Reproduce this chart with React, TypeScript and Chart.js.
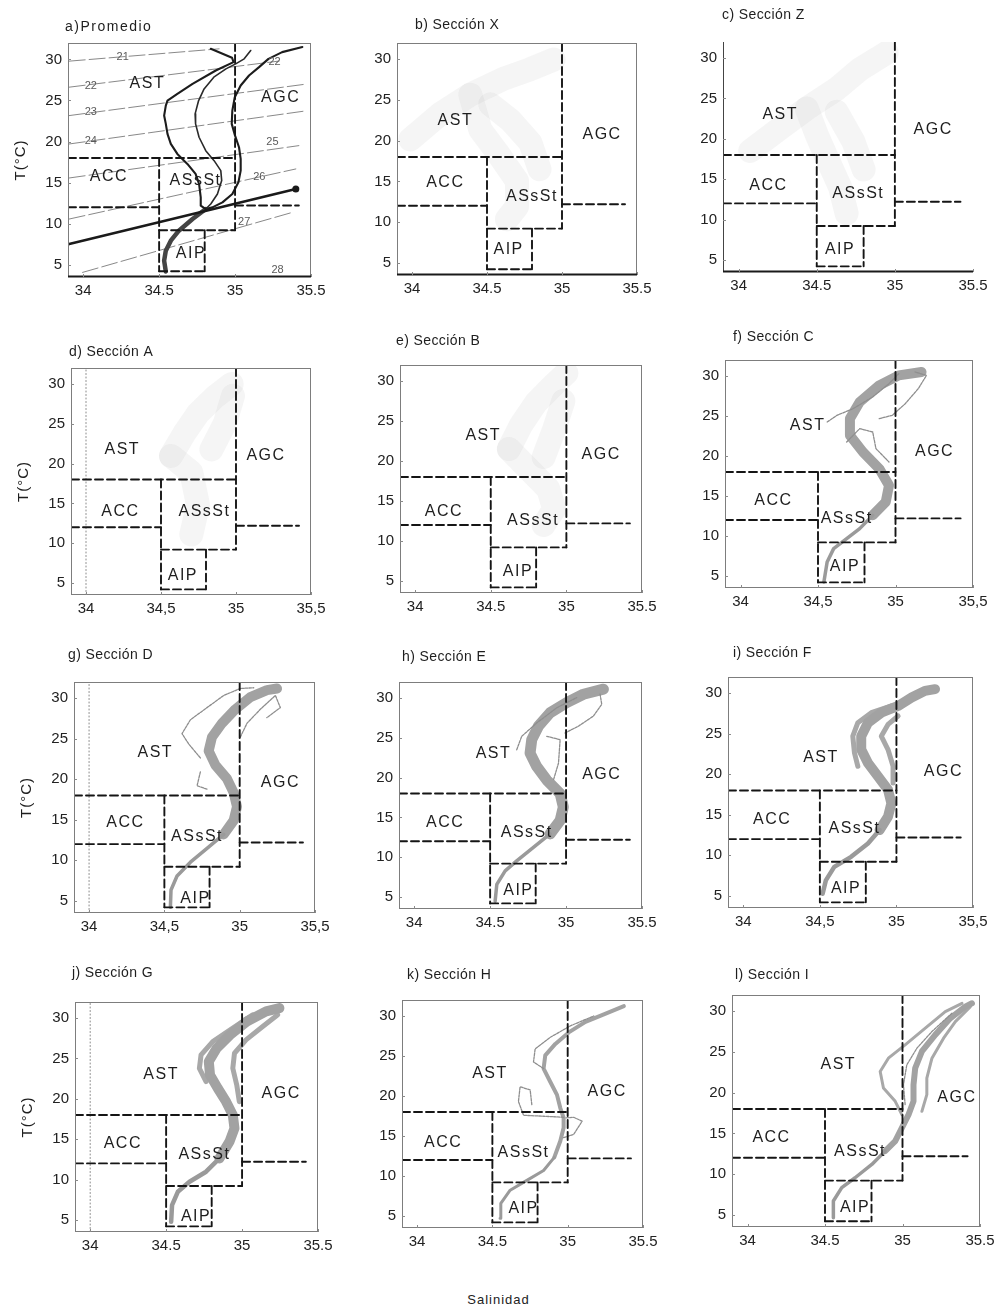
import React, { useEffect, useRef } from "react";
import { Chart, registerables } from "chart.js";

Chart.register(...registerables);

type Pt = [number, number];

const FONT = '"Liberation Sans", Arial, Helvetica, sans-serif';

// ---- shared axes ----
const SAL_MIN = 33.9;
const SAL_MAX = 35.5;
const TEMP_MIN = 3.5;
const TEMP_MAX = 32;
const salinityTicks = [34, 34.5, 35, 35.5];
const salinityLabelsPoint = ["34", "34.5", "35", "35.5"];
const salinityLabelsComma = ["34", "34,5", "35", "35,5"];
const temperatureTicks = [5, 10, 15, 20, 25, 30];

const massNames = ["AST", "AGC", "ACC", "ASsSt", "AIP"];

// ---- water mass limits (salinity, temperature) ----
const limitT18: Pt[] = [[SAL_MIN, 18], [35, 18]];
const limitT12West: Pt[] = [[SAL_MIN, 12], [34.5, 12]];
const limitT12East: Pt[] = [[35, 12.2], [35.42, 12.2]];
const limitS345: Pt[] = [[34.5, 18], [34.5, 4.2]];
const limitS35: Pt[] = [[35, TEMP_MAX], [35, 9.2]];
const limitT9: Pt[] = [[34.5, 9.2], [35, 9.2]];
const limitS348: Pt[] = [[34.8, 9.2], [34.8, 4.2]];
const limitT4: Pt[] = [[34.5, 4.2], [34.8, 4.2]];
const isohaline34: Pt[] = [[34, TEMP_MIN], [34, TEMP_MAX]];

// ---- a) mean profiles ----
const meanMinusStd: Pt[] = [[34.84, 31.29], [34.98, 30.2], [34.99, 29.67], [34.873, 28.65], [34.72, 27.02], [34.62, 25.8], [34.555, 24.99], [34.544, 24.38], [34.533, 23.16], [34.544, 22.15], [34.555, 20.93], [34.577, 19.71], [34.62, 18.49], [34.686, 17.27], [34.74, 16.05], [34.763, 14.83], [34.774, 13.2], [34.774, 12.19], [34.807, 11.78]];
const meanProfile: Pt[] = [[35.103, 31.09], [35.06, 30.07], [35.004, 29.46], [34.94, 28.85], [34.86, 27.84], [34.796, 26.41], [34.76, 24.99], [34.737, 23.37], [34.74, 22.15], [34.763, 20.52], [34.807, 18.89], [34.862, 17.67], [34.906, 16.46], [34.912, 15.24], [34.884, 13.61], [34.84, 12.39], [34.807, 11.78]];
const meanPlusStd: Pt[] = [[35.443, 31.5], [35.31, 30.89], [35.22, 30.07], [35.158, 29.06], [35.092, 28.04], [35.037, 26.82], [34.998, 25.4], [34.982, 23.77], [34.978, 22.15], [35.0, 20.72], [35.026, 19.3], [35.037, 17.88], [35.037, 16.46], [35.022, 15.03], [34.982, 13.61], [34.917, 12.59], [34.851, 11.98], [34.807, 11.78]];
const meanDeep: Pt[] = [[34.807, 11.78], [34.72, 10.56], [34.63, 9.14], [34.577, 7.92], [34.544, 6.7], [34.533, 5.48], [34.544, 4.18]];
const mixingLine: Pt[] = [[33.908, 7.51], [35.4, 14.22]];

// ---- a) sigma-t isopycnals ----
const sigma21: Pt[] = [[33.908, 29.79], [34.895, 31.29]];
const sigma22: Pt[] = [[33.908, 26.62], [35.29, 29.8]];
const sigma23: Pt[] = [[33.908, 23.16], [35.45, 26.95]];
const sigma24: Pt[] = [[33.908, 19.7], [35.45, 23.69]];
const sigma25: Pt[] = [[33.908, 15.56], [35.42, 19.5]];
const sigma26: Pt[] = [[33.908, 10.56], [35.4, 16.66]];
const sigma27: Pt[] = [[33.996, 4.06], [35.377, 11.37]];
const sigmaValues = ["21", "22", "22", "23", "24", "25", "26", "27", "28"];

// ---- b) Sección X ----
const secXCloudA: Pt[] = [[33.989, 20.16], [34.189, 23.29], [34.389, 25.65], [34.611, 27.61], [34.789, 28.78], [34.944, 29.96]];
const secXCloudB: Pt[] = [[34.389, 25.65], [34.456, 21.33], [34.567, 18.59], [34.7, 15.06], [34.7, 11.92], [34.633, 10.35]];
const secXCloudC: Pt[] = [[34.522, 24.47], [34.656, 22.51], [34.789, 19.76], [34.85, 16.5]];

// ---- c) Sección Z ----
const secZCloudA: Pt[] = [[34.074, 18.49], [34.266, 21.32], [34.436, 23.76], [34.628, 26.19], [34.777, 28.62], [34.947, 30.65]];
const secZCloudB: Pt[] = [[34.436, 23.76], [34.5, 20.51], [34.564, 17.68], [34.649, 14.03], [34.691, 10.78]];
const secZCloudC: Pt[] = [[34.628, 23.35], [34.734, 19.7], [34.8, 16.2]];

// ---- d) Sección A ----
const secACloudA: Pt[] = [[34.567, 20.96], [34.657, 23.84], [34.747, 26.3], [34.859, 28.36], [34.971, 30.0]];
const secACloudB: Pt[] = [[34.567, 20.96], [34.702, 18.9], [34.747, 14.79], [34.702, 11.1]];
const secACloudC: Pt[] = [[34.836, 21.78], [34.926, 25.07], [34.98, 28.5]];

// ---- e) Sección B ----
const secBCloudA: Pt[] = [[34.62, 21.5], [34.7, 24.5], [34.8, 27.3], [34.92, 29.6], [35.0, 31.0]];
const secBCloudB: Pt[] = [[34.62, 21.5], [34.75, 19.0], [34.88, 16.5], [34.92, 14.0], [34.85, 12.0]];
const secBCloudC: Pt[] = [[34.85, 20.5], [34.92, 24.0], [34.98, 27.5]];

// ---- f) Sección C ----
const secCDeep: Pt[] = [[34.538, 4.25], [34.559, 6.75], [34.601, 8.42], [34.685, 9.67], [34.769, 10.92], [34.853, 12.58]];
const secCCore: Pt[] = [[34.853, 12.58], [34.937, 14.25], [34.958, 16.33], [34.895, 18.42], [34.79, 20.5], [34.706, 22.58], [34.706, 24.67], [34.769, 26.75], [34.895, 28.83], [35.021, 30.08], [35.168, 30.5]];
const secCBranchA: Pt[] = [[34.559, 24.25], [34.622, 25.08], [34.727, 25.92], [34.853, 27.38], [34.958, 29.04], [35.021, 30.29]];
const secCBranchB: Pt[] = [[34.895, 24.67], [34.979, 25.08], [35.063, 26.54], [35.147, 28.42], [35.2, 30.08], [35.126, 30.5]];
const secCBranchC: Pt[] = [[34.685, 21.75], [34.769, 23.42], [34.853, 23.0], [34.874, 20.92], [34.958, 19.25]];

// ---- g) Sección D ----
const secDDeep: Pt[] = [[34.54, 4.2], [34.544, 6.34], [34.584, 8.06], [34.673, 9.77], [34.783, 11.48], [34.894, 13.2]];
const secDCore: Pt[] = [[34.894, 13.2], [34.96, 14.91], [34.982, 16.63], [34.96, 18.34], [34.916, 20.06], [34.838, 21.77], [34.794, 23.49], [34.816, 25.2], [34.883, 26.92], [34.971, 28.63], [35.071, 30.13], [35.181, 30.99], [35.248, 31.2]];
const secDBranchA: Pt[] = [[35.004, 25.2], [35.049, 26.92], [35.137, 28.63], [35.237, 30.34], [35.27, 28.84], [35.18, 27.6]];
const secDBranchB: Pt[] = [[34.739, 22.63], [34.662, 24.34], [34.617, 25.63], [34.673, 27.34], [34.783, 28.84], [34.894, 30.34], [35.004, 31.2], [35.093, 31.29]];
const secDBranchC: Pt[] = [[34.739, 20.91], [34.717, 19.2], [34.783, 18.77]];

// ---- h) Sección E ----
const secEDeep: Pt[] = [[34.533, 4.48], [34.544, 6.59], [34.599, 8.28], [34.675, 9.55], [34.785, 11.24], [34.895, 12.93]];
const secECore: Pt[] = [[34.895, 12.93], [34.961, 14.62], [34.982, 16.31], [34.961, 18.0], [34.873, 19.69], [34.807, 21.38], [34.763, 23.07], [34.774, 24.76], [34.818, 26.45], [34.895, 28.14], [35.004, 29.41], [35.114, 30.46], [35.246, 31.1]];
const secEBranchA: Pt[] = [[34.993, 25.6], [35.081, 26.45], [35.18, 27.72], [35.235, 29.2], [35.224, 30.46]];
const secEBranchB: Pt[] = [[34.675, 23.49], [34.708, 25.18], [34.807, 26.87], [34.939, 28.77], [35.07, 30.04]];
const secEBranchC: Pt[] = [[34.873, 25.18], [34.961, 24.76], [34.95, 21.8], [34.917, 19.69]];

// ---- i) Sección F ----
const secFDeep: Pt[] = [[34.518, 5.26], [34.539, 6.91], [34.594, 8.57], [34.704, 9.81], [34.814, 11.46], [34.89, 13.12]];
const secFCore: Pt[] = [[34.89, 13.12], [34.945, 14.77], [34.967, 16.43], [34.945, 18.08], [34.879, 19.74], [34.814, 21.39], [34.77, 23.05], [34.77, 24.7], [34.814, 26.36], [34.901, 27.6], [35.011, 28.43], [35.099, 29.46], [35.186, 30.29], [35.252, 30.5]];
const secFBranchA: Pt[] = [[34.978, 18.91], [34.978, 20.98], [34.945, 23.05], [34.901, 24.7], [34.945, 26.15], [35.011, 27.19]];
const secFBranchB: Pt[] = [[34.748, 20.98], [34.726, 22.63], [34.715, 24.7], [34.748, 26.36], [34.836, 27.6], [34.967, 28.43]];

// ---- j) Sección G ----
const secGDeep: Pt[] = [[34.533, 4.76], [34.539, 6.83], [34.577, 8.48], [34.654, 9.73], [34.763, 10.97], [34.851, 12.62]];
const secGCore: Pt[] = [[34.851, 12.62], [34.917, 14.69], [34.95, 16.35], [34.939, 18.0], [34.895, 19.65], [34.84, 21.31], [34.789, 22.96], [34.781, 24.62], [34.833, 26.27], [34.921, 27.93], [35.031, 29.58], [35.158, 30.83], [35.246, 31.24]];
const secGBranchA: Pt[] = [[34.763, 22.14], [34.719, 23.79], [34.73, 25.45], [34.807, 27.1], [34.939, 28.76], [35.07, 30.41]];
const secGBranchB: Pt[] = [[34.982, 19.65], [34.965, 21.72], [34.939, 23.79], [34.95, 25.65], [35.026, 27.31], [35.136, 28.96], [35.235, 30.41]];

// ---- k) Sección H ----
const secHDeep: Pt[] = [[34.551, 4.72], [34.556, 6.57], [34.618, 8.22], [34.729, 9.45], [34.84, 10.68], [34.911, 12.33]];
const secHCore: Pt[] = [[34.911, 12.33], [34.951, 14.38], [34.973, 16.03], [34.973, 17.26], [34.951, 18.49], [34.929, 20.14], [34.884, 21.78], [34.84, 23.43], [34.851, 25.07], [34.918, 26.51], [35.007, 27.95], [35.118, 29.26], [35.24, 30.21], [35.373, 31.23]];
const secHBranchA: Pt[] = [[34.973, 17.34], [34.84, 17.47], [34.707, 17.59], [34.673, 19.32], [34.684, 21.16], [34.751, 20.75], [34.762, 18.9]];
const secHBranchB: Pt[] = [[34.84, 23.43], [34.773, 24.25], [34.784, 25.89], [34.884, 27.33], [35.018, 28.77], [35.173, 30.0]];
const secHBranchC: Pt[] = [[34.973, 14.79], [35.04, 15.21], [35.096, 16.85], [35.04, 17.34], [34.984, 17.26]];

// ---- l) Sección I ----
const secIDeep: Pt[] = [[34.554, 4.65], [34.554, 6.69], [34.608, 8.33], [34.694, 9.55], [34.802, 11.18], [34.888, 12.82]];
const secICore: Pt[] = [[34.888, 12.82], [34.953, 14.04], [34.996, 15.67], [35.039, 17.31], [35.071, 18.94], [35.071, 20.98], [35.082, 23.02], [35.125, 25.06], [35.211, 27.1], [35.308, 29.14], [35.405, 30.57], [35.448, 30.98]];
const secIBranchA: Pt[] = [[34.996, 17.31], [34.953, 18.94], [34.877, 20.57], [34.856, 22.61], [34.909, 24.24], [35.017, 25.88], [35.147, 27.92], [35.276, 29.96], [35.384, 30.98]];
const secIBranchB: Pt[] = [[35.125, 17.71], [35.157, 19.76], [35.157, 21.8], [35.19, 24.24], [35.265, 26.69], [35.341, 28.73], [35.438, 30.57]];
const secIBranchC: Pt[] = [[35.017, 18.53], [35.006, 20.98], [35.028, 23.43], [35.093, 25.47], [35.19, 27.51], [35.319, 29.76]];

// ---- drawing styles ----
type Series = { pts: Pt[]; color: string; width: number; dash?: number[]; order: number; endDot?: boolean };

const boundaryStyle = (pts: Pt[]): Series => ({ pts, color: "#151515", width: 1.9, dash: [8, 4], order: 1 });
const cloud = (pts: Pt[]): Series => ({ pts, color: "rgba(175,175,175,0.13)", width: 24, order: 9 });
const band = (pts: Pt[], width: number): Series => ({ pts, color: "#a2a2a2", width, order: 6 });
const deep = (pts: Pt[], width = 3.5): Series => ({ pts, color: "#9a9a9a", width, order: 6 });
const edge = (pts: Pt[], width = 4): Series => ({ pts, color: "#a8a8a8", width, order: 7 });
const strand = (pts: Pt[]): Series => ({ pts, color: "#8e8e8e", width: 1.3, dash: [2.5, 1.2], order: 5 });
const isopycnal = (pts: Pt[]): Series => ({ pts, color: "#7a7a7a", width: 0.9, dash: [16, 4], order: 8 });

const boundaries: Series[] = [limitT18, limitT12West, limitT12East, limitS345, limitS35, limitT9, limitS348, limitT4].map(boundaryStyle);
const isohalineRef: Series = { pts: isohaline34, color: "#8a8a8a", width: 1, dash: [1, 2.5], order: 4 };

// ---- panel layout ----
type PanelSpec = {
  title: string;
  rect: [number, number, number, number]; // plot area on the page: left, top, width, height
  titleAt: [number, number];
  titleSpacing: number;
  tickLabels: string[];
  yLabel: boolean;
  frame: "box" | "boxDark" | "axes";
  massAt: Pt[];
  series: Series[];
  sigmaAt?: Pt[];
};

const panels: PanelSpec[] = [
  {
    title: "a)Promedio", rect: [68, 43, 243, 234], titleAt: [-3, -16], titleSpacing: 1.5,
    tickLabels: salinityLabelsPoint, yLabel: true, frame: "boxDark",
    massAt: [[34.423, 27.0], [35.3, 25.4], [34.17, 15.7], [34.74, 15.2], [34.71, 6.3]],
    series: [
      ...[sigma21, sigma22, sigma23, sigma24, sigma25, sigma26, sigma27].map(isopycnal),
      { pts: meanMinusStd, color: "#1c1c1c", width: 2.1, order: 3 },
      { pts: meanProfile, color: "#2a2a2a", width: 1.6, order: 3 },
      { pts: meanPlusStd, color: "#1c1c1c", width: 2.1, order: 3 },
      { pts: meanDeep, color: "#444", width: 4.5, order: 3 },
      { pts: mixingLine, color: "#1a1a1a", width: 2.6, order: 2, endDot: true },
    ],
    sigmaAt: [[34.26, 30.28], [34.05, 26.82], [35.26, 29.67], [34.05, 23.57], [34.05, 20.11], [35.246, 19.91], [35.16, 15.64], [35.06, 10.15], [35.28, 4.34]],
  },
  {
    title: "b) Sección X", rect: [397, 43, 240, 232], titleAt: [18, -18], titleSpacing: 0.4,
    tickLabels: salinityLabelsPoint, yLabel: false, frame: "boxDark",
    massAt: [[34.289, 22.5], [35.267, 20.75], [34.222, 14.86], [34.8, 13.1], [34.644, 6.63]],
    series: [secXCloudA, secXCloudB, secXCloudC].map(cloud),
  },
  {
    title: "c) Sección Z", rect: [723, 42, 250, 230], titleAt: [-1, -27], titleSpacing: 0.4,
    tickLabels: salinityLabelsPoint, yLabel: false, frame: "axes",
    massAt: [[34.266, 22.95], [35.245, 21.12], [34.191, 14.23], [34.766, 13.22], [34.649, 6.33]],
    series: [secZCloudA, secZCloudB, secZCloudC].map(cloud),
  },
  {
    title: "d) Sección A", rect: [71, 368, 240, 227], titleAt: [-2, -16], titleSpacing: 0.4,
    tickLabels: salinityLabelsComma, yLabel: true, frame: "box",
    massAt: [[34.242, 21.78], [35.2, 20.96], [34.23, 13.97], [34.79, 13.97], [34.646, 5.96]],
    series: [isohalineRef, ...[secACloudA, secACloudB, secACloudC].map(cloud)],
  },
  {
    title: "e) Sección B", rect: [400, 365, 242, 228], titleAt: [-4, -24], titleSpacing: 0.4,
    tickLabels: salinityLabelsPoint, yLabel: false, frame: "box",
    massAt: [[34.45, 23.2], [35.23, 20.8], [34.19, 13.7], [34.78, 12.6], [34.68, 6.2]],
    series: [secBCloudA, secBCloudB, secBCloudC].map(cloud),
  },
  {
    title: "f) Sección C", rect: [725, 360, 248, 228], titleAt: [8, -23], titleSpacing: 0.4,
    tickLabels: salinityLabelsComma, yLabel: false, frame: "box",
    massAt: [[34.433, 23.75], [35.252, 20.5], [34.212, 14.46], [34.685, 12.17], [34.674, 6.13]],
    series: [deep(secCDeep), band(secCCore, 10), ...[secCBranchA, secCBranchB, secCBranchC].map(strand)],
  },
  {
    title: "g) Sección D", rect: [74, 682, 241, 231], titleAt: [-6, -27], titleSpacing: 0.4,
    tickLabels: salinityLabelsComma, yLabel: true, frame: "box",
    massAt: [[34.44, 23.27], [35.27, 19.63], [34.241, 14.7], [34.717, 12.98], [34.706, 5.27]],
    series: [isohalineRef, deep(secDDeep), band(secDCore, 10), ...[secDBranchA, secDBranchB, secDBranchC].map(strand)],
  },
  {
    title: "h) Sección E", rect: [399, 682, 243, 227], titleAt: [3, -25], titleSpacing: 0.4,
    tickLabels: salinityLabelsPoint, yLabel: false, frame: "box",
    massAt: [[34.522, 23.07], [35.235, 20.32], [34.204, 14.41], [34.741, 13.14], [34.686, 5.75]],
    series: [deep(secEDeep), band(secECore, 11), ...[secEBranchA, secEBranchB, secEBranchC].map(strand)],
  },
  {
    title: "i) Sección F", rect: [728, 677, 245, 231], titleAt: [5, -24], titleSpacing: 0.4,
    tickLabels: salinityLabelsComma, yLabel: false, frame: "box",
    massAt: [[34.507, 22.01], [35.307, 20.36], [34.189, 14.36], [34.726, 13.32], [34.671, 5.88]],
    series: [deep(secFDeep, 4.5), band(secFCore, 10), edge(secFBranchA, 5), edge(secFBranchB, 5)],
  },
  {
    title: "j) Sección G", rect: [75, 1002, 243, 230], titleAt: [-3, -29], titleSpacing: 0.4,
    tickLabels: salinityLabelsPoint, yLabel: true, frame: "box",
    massAt: [[34.467, 22.96], [35.257, 20.69], [34.215, 14.48], [34.752, 13.04], [34.697, 5.38]],
    series: [isohalineRef, deep(secGDeep, 4.5), band(secGCore, 10), edge(secGBranchA, 5), edge(secGBranchB, 5)],
  },
  {
    title: "k) Sección H", rect: [402, 1000, 241, 228], titleAt: [5, -25], titleSpacing: 0.4,
    tickLabels: salinityLabelsPoint, yLabel: false, frame: "box",
    massAt: [[34.484, 22.81], [35.262, 20.55], [34.173, 14.18], [34.707, 12.94], [34.707, 5.96]],
    series: [deep(secHDeep, 3), band(secHCore, 4), ...[secHBranchA, secHBranchB, secHBranchC].map(strand)],
  },
  {
    title: "l) Sección I", rect: [732, 995, 248, 232], titleAt: [3, -20], titleSpacing: 0.4,
    tickLabels: salinityLabelsPoint, yLabel: false, frame: "box",
    massAt: [[34.586, 23.43], [35.351, 19.35], [34.155, 14.45], [34.726, 12.82], [34.694, 5.88]],
    series: [deep(secIDeep, 3.5), band(secICore, 6), edge(secIBranchA, 3), edge(secIBranchB, 3), strand(secIBranchC)],
  },
];

const M_L = 62;
const M_T = 40;
const M_R = 22;
const M_B = 32;

function decorations(spec: PanelSpec) {
  return {
    id: "tsDecor",
    afterDatasetsDraw(chart: any) {
      const { ctx, scales } = chart;
      const xs = scales.x;
      const ys = scales.y;
      ctx.save();
      ctx.textAlign = "center";
      ctx.textBaseline = "middle";
      if (spec.sigmaAt) {
        ctx.font = `11px ${FONT}`;
        ctx.fillStyle = "#5a5a5a";
        spec.sigmaAt.forEach(([s, t], i) => {
          ctx.fillText(sigmaValues[i], xs.getPixelForValue(s), ys.getPixelForValue(t));
        });
      }
      ctx.font = `16px ${FONT}`;
      (ctx as any).letterSpacing = "1.5px";
      ctx.fillStyle = "#1e1e1e";
      massNames.forEach((name, i) => {
        const [s, t] = spec.massAt[i];
        ctx.fillText(name, xs.getPixelForValue(s), ys.getPixelForValue(t));
      });
      ctx.restore();
    },
    afterDraw(chart: any) {
      const { ctx, chartArea, scales } = chart;
      const { left, top, right, bottom } = chartArea;
      ctx.save();
      // frame
      ctx.lineWidth = 1;
      ctx.strokeStyle = "#7d7d7d";
      if (spec.frame === "axes") {
        ctx.strokeStyle = "#444";
        ctx.beginPath();
        ctx.moveTo(left + 0.5, top);
        ctx.lineTo(left + 0.5, bottom);
        ctx.stroke();
      } else {
        ctx.strokeRect(left + 0.5, top + 0.5, right - left - 1, bottom - top - 1);
      }
      if (spec.frame !== "box") {
        ctx.strokeStyle = "#1a1a1a";
        ctx.lineWidth = 1.8;
        ctx.beginPath();
        ctx.moveTo(left, bottom - 0.5);
        ctx.lineTo(right, bottom - 0.5);
        ctx.stroke();
      }
      // small inward ticks
      ctx.strokeStyle = "#8a8a8a";
      ctx.lineWidth = 1;
      ctx.beginPath();
      salinityTicks.forEach((v) => {
        const px = Math.round(scales.x.getPixelForValue(v)) + 0.5;
        ctx.moveTo(px, bottom);
        ctx.lineTo(px, bottom - 3);
      });
      temperatureTicks.forEach((v) => {
        const py = Math.round(scales.y.getPixelForValue(v)) + 0.5;
        ctx.moveTo(left, py);
        ctx.lineTo(left + 3, py);
      });
      ctx.stroke();
      // panel title
      ctx.fillStyle = "#1e1e1e";
      ctx.font = `14px ${FONT}`;
      (ctx as any).letterSpacing = `${spec.titleSpacing}px`;
      ctx.textAlign = "left";
      ctx.textBaseline = "middle";
      ctx.fillText(spec.title, left + spec.titleAt[0], top + spec.titleAt[1]);
      // temperature axis title
      if (spec.yLabel) {
        ctx.font = `15px ${FONT}`;
        (ctx as any).letterSpacing = "1px";
        ctx.textAlign = "center";
        ctx.translate(left - 47, (top + bottom) / 2);
        ctx.rotate(-Math.PI / 2);
        ctx.fillText("T(°C)", 0, 0);
      }
      ctx.restore();
    },
  };
}

function TSPanel({ spec }: { spec: PanelSpec }) {
  const ref = useRef<HTMLCanvasElement>(null);
  const [pl, pt, pw, ph] = spec.rect;
  const W = pw + M_L + M_R;
  const H = ph + M_T + M_B;

  useEffect(() => {
    const canvas = ref.current;
    if (!canvas) return;
    const toDataset = (s: Series) => ({
      data: s.pts.map(([x, y]) => ({ x, y })),
      showLine: true,
      borderColor: s.color,
      backgroundColor: s.color,
      borderWidth: s.width,
      borderDash: s.dash ?? [],
      borderCapStyle: "round",
      borderJoinStyle: "round",
      pointRadius: s.endDot ? s.pts.map((_, i) => (i === s.pts.length - 1 ? 3.5 : 0)) : 0,
      pointBorderWidth: 0,
      tension: 0,
      fill: false,
      clip: 0,
      order: s.order,
    });
    const datasets = [...boundaries, ...spec.series].map(toDataset);
    const tickFont = { family: FONT, size: 15 };
    const chart = new Chart(canvas, {
      type: "scatter",
      data: { datasets } as any,
      options: {
        animation: false,
        responsive: false,
        devicePixelRatio: 1,
        events: [],
        layout: { padding: { left: 0, top: M_T, right: M_R, bottom: 0 } },
        plugins: { legend: { display: false }, tooltip: { enabled: false } },
        scales: {
          x: {
            type: "linear",
            position: "bottom",
            min: SAL_MIN,
            max: SAL_MAX,
            grid: { display: false, drawTicks: false },
            border: { display: false },
            afterBuildTicks: (s: any) => {
              s.ticks = salinityTicks.map((value) => ({ value }));
            },
            afterFit: (s: any) => {
              s.height = M_B;
            },
            ticks: {
              padding: 5,
              maxRotation: 0,
              autoSkip: false,
              color: "#222",
              font: tickFont,
              callback: (v: any) => spec.tickLabels[salinityTicks.indexOf(Number(v))] ?? "",
            },
          },
          y: {
            type: "linear",
            min: TEMP_MIN,
            max: TEMP_MAX,
            grid: { display: false, drawTicks: false },
            border: { display: false },
            afterBuildTicks: (s: any) => {
              s.ticks = temperatureTicks.map((value) => ({ value }));
            },
            afterFit: (s: any) => {
              s.width = M_L;
            },
            ticks: {
              padding: 6,
              autoSkip: false,
              color: "#222",
              font: tickFont,
              callback: (v: any) => String(v),
            },
          },
        },
      } as any,
      plugins: [decorations(spec)],
    });
    return () => chart.destroy();
  }, [spec]);

  return (
    <canvas
      ref={ref}
      width={W}
      height={H}
      style={{ position: "absolute", left: pl - M_L, top: pt - M_T, width: W, height: H }}
    />
  );
}

export default function App() {
  return (
    <div
      style={{
        position: "absolute",
        left: 0,
        top: 0,
        width: 997,
        height: 1313,
        overflow: "hidden",
        background: "#fff",
      }}
    >
      {panels.map((p) => (
        <TSPanel key={p.title} spec={p} />
      ))}
      <div
        style={{
          position: "absolute",
          left: 0,
          top: 1291,
          width: 997,
          textAlign: "center",
          font: `13px ${FONT}`,
          letterSpacing: "1px",
          lineHeight: "18px",
          color: "#222",
        }}
      >
        Salinidad
      </div>
    </div>
  );
}
